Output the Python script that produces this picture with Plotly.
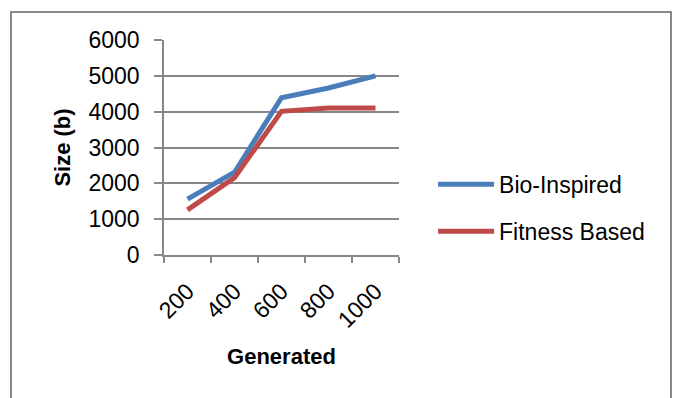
import plotly.graph_objects as go

# Memory size of the generated output, per method
generated = ["200", "400", "600", "800", "1000"]
bio_inspired = [1560, 2310, 4390, 4660, 5000]
fitness_based = [1260, 2160, 4010, 4100, 4100]

BLUE = "#4A7EBB"
RED = "#BE4B48"
GRID = "#878787"
FONT = "Liberation Sans"

fig = go.Figure()
fig.add_trace(go.Scatter(x=generated, y=bio_inspired, mode="lines", name="Bio-Inspired",
                         legendgroup="bio", line=dict(color=BLUE, width=5)))
fig.add_trace(go.Scatter(x=generated, y=fitness_based, mode="lines", name="Fitness Based",
                         legendgroup="fit", line=dict(color=RED, width=5)))

fig.update_layout(
    width=678, height=398,
    margin=dict(l=164, r=279, t=40, b=143, pad=0),
    paper_bgcolor="white", plot_bgcolor="white",
    font=dict(family=FONT, size=23, color="black"),
    showlegend=True,
    legend=dict(x=1.145, y=0.219, xanchor="left", yanchor="middle",
                font=dict(size=23), itemwidth=56, tracegroupgap=14,
                traceorder="grouped", bgcolor="rgba(0,0,0,0)"),
    xaxis=dict(type="category", range=[-0.5, 4.5], tickangle=-45,
               showline=True, linecolor=GRID, linewidth=1.5,
               ticks="outside", ticklen=6, tickcolor=GRID, tickwidth=1.5,
               tickson="boundaries", showgrid=False, ticklabelstandoff=12,
               title=dict(text="<b>Generated</b>", font=dict(size=22), standoff=17)),
    yaxis=dict(range=[0, 6000], dtick=1000, tickformat="d",
               showline=True, linecolor=GRID, linewidth=1.5,
               ticks="outside", ticklen=8, tickcolor=GRID, tickwidth=1.5,
               ticklabelstandoff=10,
               showgrid=True, gridcolor=GRID, gridwidth=1.5, zeroline=False,
               title=dict(text="<b>Size (b)</b>", font=dict(size=22), standoff=12)),
)

# outer chart border
fig.add_shape(type="rect", xref="paper", yref="paper",
              x0=(11 - 164) / 235, x1=(671 - 164) / 235,
              y0=(255 - 420) / 215, y1=(255 - 12) / 215,
              line=dict(color="#888888", width=2), fillcolor="rgba(0,0,0,0)", layer="below")

fig.write_html("out.html")
